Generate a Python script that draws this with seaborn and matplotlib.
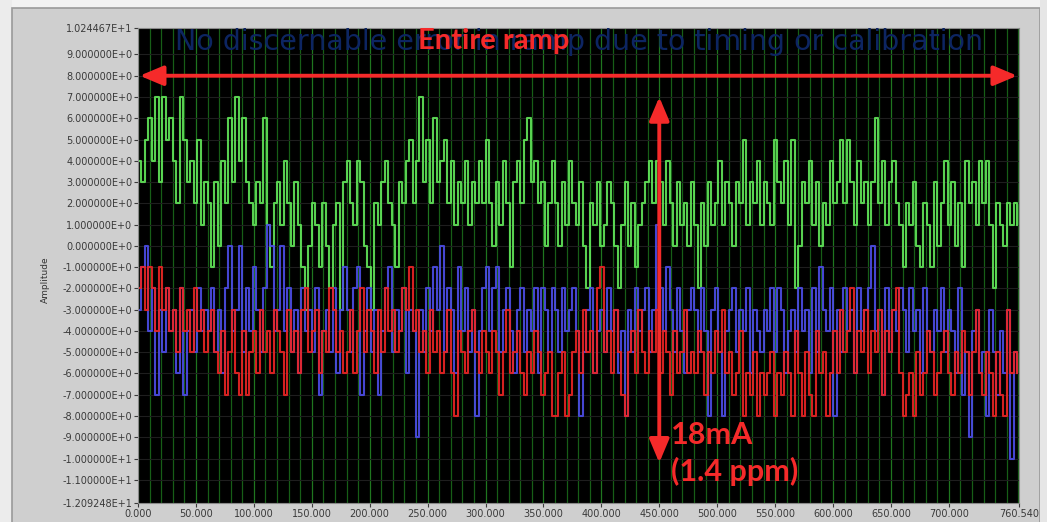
import numpy as np
import pandas as pd
import matplotlib
matplotlib.use("Agg")
import matplotlib.pyplot as plt
from matplotlib.patches import Rectangle
from matplotlib.ticker import FixedLocator, MultipleLocator
import seaborn as sns

# Sample spacing of the three acquired traces
dt = 3.0

green_trace = [
    4, 3, 5, 6, 4, 7, 3, 7, 5, 6, 4, 2, 7, 5, 3, 4, 2, 5, 1, 3,
    2, -1, 3, 0, 4, 2, 6, 3, 7, 4, 6, 3, 2, 1, 3, 2, 6, 1, -1, 2,
    3, 1, 4, 2, 0, 3, 1, -1, -3, 0, 2, 1, -1, 2, 0, -2, 1, 2, -3, 3,
    4, 2, 1, 4, 3, 0, -1, -3, 2, 1, 3, 4, 2, 1, -1, 3, 2, 4, 5, 2,
    4, 7, 3, 5, 2, 6, 3, 4, 5, 2, 4, 1, 3, 2, 4, 1, 3, 2, 4, 2,
    5, 2, 0, 3, 1, 4, 2, -1, 3, 4, 2, 5, 6, 3, 4, 2, 3, 0, 2, 4,
    2, 0, 3, 1, 4, 2, 1, 3, 0, -2, 2, 1, 3, 0, 1, 3, 2, 0, -2, 1,
    3, 0, 2, -1, 1, 2, 3, 4, 2, 4, 3, 1, 4, 2, 0, 3, 1, 2, 0, 3,
    1, -2, 2, 0, 3, 1, 2, 4, 1, 3, 2, 0, 3, 2, 5, 1, 3, 2, 4, 1,
    3, 2, 1, 5, 3, 2, 4, 1, 5, -2, 0, 3, 2, 4, 1, 3, 0, 2, 1, 4,
    2, 3, 5, 2, 5, 3, 1, 4, 2, 3, 1, 3, 6, 2, 4, 1, 3, 4, 2, 1,
    -1, 2, 1, 3, 0, -1, 2, 1, -1, 3, 0, 2, 4, 1, 3, 0, 2, -1, 4, 2,
    3, 1, 4, 2, 4, 1, -2, 2, 1, 0, 2, 1, 2, 1,
]

blue_trace = [
    -3, -1, 0, -4, -2, -7, -3, -5, -2, -4, -3, -6, -2, -7, -4, -3, -5, -2, -4, -3,
    -4, -2, -5, -3, -6, -2, 0, -4, -3, 0, -5, -2, -4, -1, -3, -5, -2, 1, 0, -4,
    -3, 0, -4, -2, -5, -3, -6, -2, -4, -3, -5, -2, -7, -4, -3, -5, -2, -6, -3, -1,
    -3, -5, -2, -1, -7, -4, -2, -5, -3, -7, -4, -2, -1, -5, -3, -4, -2, -6, -3, -4,
    -9, -3, -5, -2, -4, -1, -3, 0, -5, -2, -3, -6, -1, -4, -2, -5, -3, -8, -4, -2,
    -1, -4, -2, -1, -5, -3, -2, -4, -6, -3, -2, -5, -3, -4, -2, -6, -2, -3, -5, -2,
    -3, -5, -2, -4, -3, -2, -4, -8, -5, -3, -2, -6, -4, -3, -5, -2, -4, -3, -6, -4,
    -8, -3, -5, -2, -4, -3, -2, -5, -3, 1, -2, -4, -1, -3, -5, -2, -4, -6, -3, -2,
    -3, -5, -2, -4, -8, -3, -2, -5, -8, -4, -3, -2, -5, -3, -4, -2, -6, -3, -4, -5,
    -3, -4, -2, -5, -2, -3, -6, -4, -3, -5, -2, -4, -3, -6, -2, -5, -1, -3, -4, -2,
    -8, -3, -5, -2, -4, -3, -6, -2, -4, -3, -2, 0, -4, -3, -7, -2, -5, -3, -4, -2,
    -3, -5, -2, -4, -3, -6, -2, -4, -5, -3, -4, -2, -5, -3, -4, -6, -2, -7, -5, -9,
    -4, -3, -6, -5, -8, -3, -5, -7, -4, -6, -3, -10, -5, -6,
]

red_trace = [
    -2, -1, -3, -1, -2, -4, -1, -3, -2, -4, -3, -5, -2, -4, -3, -5, -2, -4, -3, -5,
    -4, -3, -5, -6, -4, -7, -5, -3, -6, -7, -4, -7, -5, -4, -6, -3, -5, -4, -6, -3,
    -4, -5, -7, -3, -5, -4, -6, -3, -2, -5, -4, -3, -6, -4, -5, -2, -3, -5, -4, -6,
    -5, -3, -6, -4, -2, -5, -3, -4, -6, -3, -5, -2, -4, -3, -5, -4, -2, -3, -1, -4,
    -3, -5, -4, -6, -3, -5, -4, -6, -5, -3, -6, -8, -4, -5, -6, -4, -3, -5, -6, -4,
    -5, -6, -4, -5, -7, -5, -3, -6, -5, -4, -6, -7, -5, -6, -4, -5, -7, -6, -5, -8,
    -8, -6, -5, -8, -7, -5, -4, -6, -3, -5, -4, -6, -2, -1, -5, -4, -6, -3, -5, -7,
    -8, -5, -4, -6, -3, -5, -6, -4, -5, -3, -6, -4, -5, -7, -4, -6, -5, -3, -6, -5,
    -6, -4, -5, -7, -5, -6, -4, -5, -3, -6, -5, -7, -6, -4, -8, -6, -7, -5, -8, -6,
    -7, -6, -5, -8, -6, -7, -5, -6, -8, -4, -6, -8, -5, -7, -8, -4, -6, -5, -8, -6,
    -4, -6, -3, -5, -4, -2, -6, -4, -5, -3, -6, -4, -5, -3, -7, -4, -5, -3, -2, -6,
    -8, -7, -6, -8, -5, -7, -6, -4, -5, -7, -6, -5, -4, -6, -7, -5, -6, -4, -5, -7,
    -5, -3, -6, -7, -5, -6, -8, -5, -7, -8, -3, -6, -5, -6,
]

trace_names = ["Plot 0", "Plot 1", "Plot 2"]
trace_colors = {"Plot 0": "#62e85a", "Plot 1": "#4d4dea", "Plot 2": "#ee2424"}

y_min, y_max = -12.09248, 10.24467
x_max = 760.54
y_tick_values = [y_max] + list(range(9, -12, -1)) + [y_min]
x_tick_values = [0, 50, 100, 150, 200, 250, 300, 350, 400, 450, 500, 550, 600, 650, 700, x_max]

frames = []
for name, vals in zip(trace_names, [green_trace, blue_trace, red_trace]):
    frames.append(pd.DataFrame({
        "t": np.arange(len(vals)) * dt,
        "amp": vals,
        "trace": name,
    }))
df = pd.concat(frames, ignore_index=True)


def labview_fmt(v):
    if v == 0:
        return "0.000000E+0"
    e = int(np.floor(np.log10(abs(v))))
    m = v / 10 ** e
    return f"{m:.6f}E{'+' if e >= 0 else '-'}{abs(e)}"


plt.rcParams["font.family"] = ["DejaVu Sans"]

W, H = 1047, 522
fig = plt.figure(figsize=(W / 100, H / 100), dpi=100)
fig.patch.set_facecolor("#cfcfcf")

# Window chrome around the graph panel
fig.patches.append(Rectangle((0, 1 - 8 / H), 1, 8 / H, transform=fig.transFigure,
                             facecolor="#f2f2f2", edgecolor="none", zorder=0))
fig.patches.append(Rectangle((0, 0), 12 / W, 1, transform=fig.transFigure,
                             facecolor="#ececec", edgecolor="none", zorder=0))
fig.patches.append(Rectangle((12 / W, -0.05), (1040 - 12) / W, 1 - 8 / H + 0.05,
                             transform=fig.transFigure, facecolor="none",
                             edgecolor="#9a9a9a", linewidth=1.2, zorder=0))
fig.patches.append(Rectangle((1040 / W, 0), 7 / W, 1, transform=fig.transFigure,
                             facecolor="#e6e6e6", edgecolor="none", zorder=0))

ax = fig.add_axes([138 / W, (H - 503) / H, (1019 - 138) / W, (503 - 28) / H])
ax.set_facecolor("black")

sns.lineplot(data=df, x="t", y="amp", hue="trace", hue_order=trace_names,
             palette=trace_colors, estimator=None, sort=False,
             drawstyle="steps-post", linewidth=1.5, alpha=0.9,
             legend=False, ax=ax)

ax.set_xlim(0, x_max)
ax.set_ylim(y_min, y_max)

ax.yaxis.set_major_locator(FixedLocator(y_tick_values))
ax.set_yticklabels([labview_fmt(v) for v in y_tick_values])
ax.xaxis.set_major_locator(FixedLocator(x_tick_values))
ax.set_xticklabels([f"{v:.3f}" for v in x_tick_values])
ax.xaxis.set_minor_locator(MultipleLocator(10))

ax.tick_params(axis="both", which="major", labelsize=7, colors="#3a3a3a",
               length=3, width=0.8, pad=1)
ax.tick_params(axis="x", which="minor", length=0)
ax.set_xlabel("")
ax.set_ylabel("")

ax.grid(False)
ax.grid(True, which="minor", axis="x", color="#175e17", linewidth=0.9)
ax.grid(True, which="major", axis="x", color="#1f761f", linewidth=0.9)
ax.grid(True, which="major", axis="y", color="#1e1e1e", linewidth=0.8)
ax.set_axisbelow(True)
for s in ax.spines.values():
    s.set_color("#8a8a8a")
    s.set_linewidth(0.8)

fig.text(45 / W, 1 - 280 / H, "Amplitude", rotation=90, fontsize=6.5,
         color="#333333", ha="center", va="center")

# Annotations drawn over the traces
ax.text(381, 9.6, "No discernable error in ramp due to timing or calibration",
        color="#0d2562", fontsize=20.5, ha="center", va="center", zorder=5)
ax.text(307, 9.65, "Entire ramp", color="#f52a2a", fontsize=21,
        fontweight="bold", family="Lato", ha="center", va="center", zorder=6)

arrow_red = "#f52a2a"
head = "<|-|>,head_length=0.95,head_width=0.4"
ax.annotate("", xy=(759, 8.0), xytext=(1.5, 8.0), zorder=6,
            arrowprops=dict(arrowstyle=head, lw=2.8, color=arrow_red,
                            mutation_scale=15, shrinkA=0, shrinkB=0))
ax.annotate("", xy=(450, -10.2), xytext=(450, 7.0), zorder=6,
            arrowprops=dict(arrowstyle=head, lw=2.8, color=arrow_red,
                            mutation_scale=15, shrinkA=0, shrinkB=0))
ax.text(460, -8.9, "18mA", color=arrow_red, fontsize=22, fontweight="bold",
        family="Lato", ha="left", va="center", zorder=6)
ax.text(460, -10.6, "(1.4 ppm)", color=arrow_red, fontsize=22, fontweight="bold",
        family="Lato", ha="left", va="center", zorder=6)

fig.savefig("out.png", dpi=100, facecolor=fig.get_facecolor())
